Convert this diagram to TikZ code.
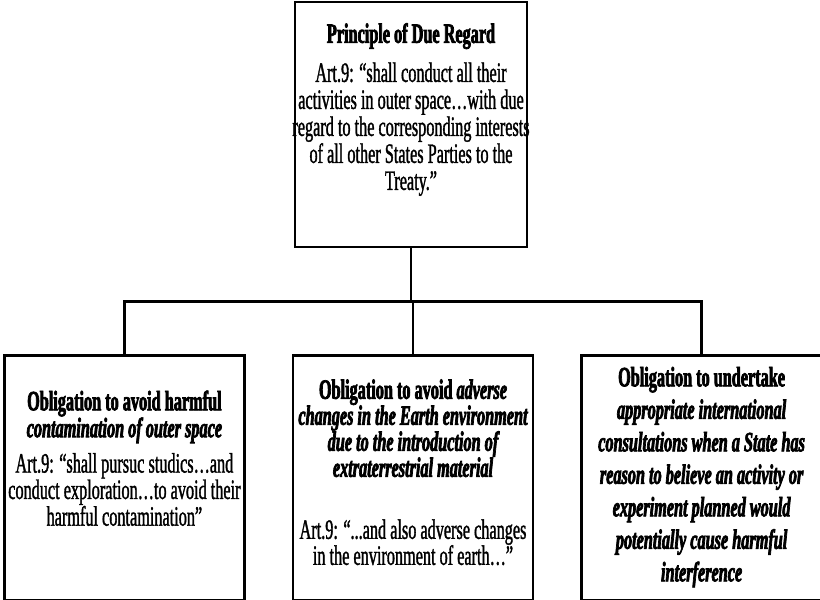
\documentclass[tikz,border=0pt]{standalone}
\usepackage{fontspec}
\setmainfont{Liberation Serif}[FakeStretch=0.58,FakeBold=1.2,
  BoldFeatures={FakeBold=2.5},BoldItalicFeatures={FakeBold=2.5}]
\usetikzlibrary{positioning,calc}
\newcommand\hd[1]{{\bfseries #1}}
\newcommand\hi[1]{{\bfseries\itshape #1}}

\begin{document}
\begin{tikzpicture}[x=1pt,y=1pt,node distance=46pt]
  \tikzstyle{box}=[draw,line width=2.6pt,align=center,minimum width=240pt,minimum height=245pt,inner sep=2pt,font=\fontsize{28}{26}\selectfont]
  \tikzstyle{link}=[line width=2.6pt]
  \useasboundingbox (0,0) rectangle (820,-600);
  \node[box,minimum width=232pt,font=\fontsize{28}{27}\selectfont] (due) at (411,-124.5) {\hd{Principle of Due Regard}\\[12pt]
    Art.9: “shall conduct all their\\ activities in outer space…with due\\
    \makebox[220pt]{regard to the corresponding interests}\\ of all other States Parties to the\\ Treaty.”\\[9pt]\mbox{}};
  \node[box,below=106pt of due,xshift=2pt] (env) {\hd{Obligation to avoid \itshape adverse}\\
    \hi{changes in the Earth environment}\\ \hi{due to the introduction of}\\
    \hi{extraterrestrial material}\\[36pt]
    Art.9: “...and also adverse changes\\ in the environment of earth…”\\[-14pt]\mbox{}};
  \node[box,left=of env,font=\fontsize{28}{25}\selectfont] (cont) {\hd{Obligation to avoid harmful}\\ \hi{contamination of outer space}\\[9pt]
    Art.9: “shall pursuc studics…and\\ conduct exploration…to avoid their\\ harmful contamination”\\[15pt]\mbox{}};
  \node[box,right=of env,font=\fontsize{28}{32.5}\selectfont] (cons) {\hd{Obligation to undertake}\\ \hi{appropriate international}\\
    \hi{consultations when a State has}\\ \hi{reason to believe an activity or}\\
    \hi{experiment planned would}\\ \hi{potentially cause harmful}\\ \hi{interference}\\[-24.5pt]\mbox{}};
  \coordinate (bus) at ($(due.south)!0.5!(env.north)$);
  \draw[link] (due.south) -- (due.south |- bus);
  \draw[link] (cont.north) |- (bus) -| (cons.north);
  \draw[link] (env.north) -- (env.north |- bus);
\end{tikzpicture}
\end{document}
